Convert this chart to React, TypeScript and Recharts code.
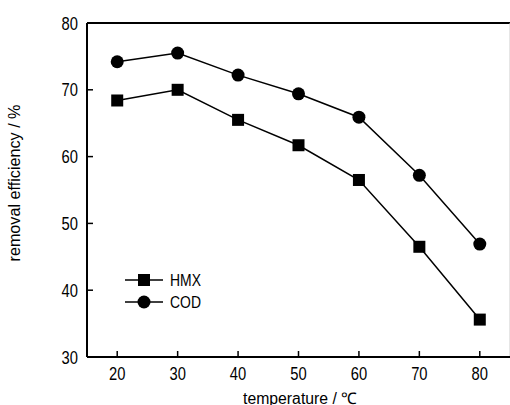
import React from 'react';
import {
  LineChart,
  Line,
  XAxis,
  YAxis,
  ReferenceLine,
} from 'recharts';

const temperatures = [20, 30, 40, 50, 60, 70, 80];
const hmx = [68.4, 70.0, 65.5, 61.7, 56.5, 46.5, 35.6];
const cod = [74.2, 75.5, 72.2, 69.4, 65.9, 57.2, 46.9];
const xTicks = [20, 30, 40, 50, 60, 70, 80];
const xMinorTicks = [25, 35, 45, 55, 65, 75];
const yTicks = [30, 40, 50, 60, 70, 80];
const seriesNames = ['HMX', 'COD'];

const data = temperatures.map((t, i) => ({ t, hmx: hmx[i], cod: cod[i] }));

const FONT = '"Liberation Sans", Arial, sans-serif';

// narrow-looking text, like the original Arial Narrow figure
const NarrowText = ({ x, y, anchor, size, children }: any) => (
  <g transform={`translate(${x},${y}) scale(0.82,1)`}>
    <text x={0} y={0} textAnchor={anchor} fontSize={size} fontFamily={FONT} fill="#000">
      {children}
    </text>
  </g>
);

const XTick = (props: any) => {
  const { x, y, payload } = props;
  return (
    <g>
      <line x1={x} y1={y} x2={x} y2={y - 6} stroke="#000" strokeWidth={1.5} />
      <NarrowText x={x} y={y + 23} anchor="middle" size={18}>
        {payload.value}
      </NarrowText>
    </g>
  );
};

const XMinorTick = (props: any) => {
  const { x, y } = props;
  return <line x1={x} y1={y} x2={x} y2={y - 3} stroke="#000" strokeWidth={1.5} />;
};

const YTick = (props: any) => {
  const { x, y, payload } = props;
  return (
    <g>
      <line x1={x} y1={y} x2={x + 6} y2={y} stroke="#000" strokeWidth={1.5} />
      <NarrowText x={x - 9} y={y + 6.5} anchor="end" size={18}>
        {payload.value}
      </NarrowText>
    </g>
  );
};

const SquareDot = (props: any) => {
  const { cx, cy } = props;
  return <rect x={cx - 6} y={cy - 6} width={12} height={12} fill="#000" />;
};

const CircleDot = (props: any) => {
  const { cx, cy } = props;
  return <circle cx={cx} cy={cy} r={6.5} fill="#000" />;
};

const Overlay = () => (
  <svg
    width={510}
    height={405}
    style={{ position: 'absolute', left: 0, top: 0, pointerEvents: 'none' }}
  >
    {/* legend */}
    <g transform="translate(125,268)">
      <line x1={0} y1={12} x2={38} y2={12} stroke="#000" strokeWidth={1.5} />
      <rect x={13} y={6} width={12} height={12} fill="#000" />
      <NarrowText x={45} y={18} anchor="start" size={17}>{seriesNames[0]}</NarrowText>
      <line x1={0} y1={34} x2={38} y2={34} stroke="#000" strokeWidth={1.5} />
      <circle cx={19} cy={34} r={6.5} fill="#000" />
      <NarrowText x={45} y={40} anchor="start" size={17}>{seriesNames[1]}</NarrowText>
    </g>
    {/* axis titles */}
    <text
      x={0}
      y={0}
      transform="translate(20,183) rotate(-90)"
      textAnchor="middle"
      fontSize={16}
      fontFamily={FONT}
      textLength={157}
      lengthAdjust="spacingAndGlyphs"
      fill="#000"
    >
      removal efficiency / %
    </text>
    <text
      x={300}
      y={404}
      textAnchor="middle"
      fontSize={16}
      fontFamily={FONT}
      textLength={114}
      lengthAdjust="spacingAndGlyphs"
      fill="#000"
    >
      temperature / ℃
    </text>
  </svg>
);

export default function App() {
  return (
    <div style={{ position: 'absolute', left: 0, top: 0, width: 510, height: 405, background: '#fff' }}>
      <LineChart
        width={510}
        height={405}
        data={data}
        margin={{ top: 23, right: 0, bottom: 0, left: 0 }}
      >
        <XAxis
          dataKey="t"
          type="number"
          domain={[15, 85]}
          ticks={xTicks}
          tickSize={0}
          tickMargin={0}
          tickLine={false}
          tick={<XTick />}
          axisLine={{ stroke: '#000', strokeWidth: 2 }}
          height={48}
          interval={0}
        />
        <XAxis
          xAxisId="minor"
          dataKey="t"
          type="number"
          domain={[15, 85]}
          ticks={xMinorTicks}
          tickSize={0}
          tickMargin={0}
          tickLine={false}
          tick={<XMinorTick />}
          axisLine={false}
          height={0}
          interval={0}
        />
        <YAxis
          type="number"
          domain={[30, 80]}
          ticks={yTicks}
          width={87}
          tickSize={0}
          tickMargin={0}
          tickLine={false}
          tick={<YTick />}
          axisLine={{ stroke: '#000', strokeWidth: 2 }}
          interval={0}
        />
        <ReferenceLine y={80} stroke="#000" strokeWidth={2} />
        <ReferenceLine x={85} stroke="#ccc" strokeWidth={1} />
        <Line
          dataKey="hmx"
          name={seriesNames[0]}
          stroke="#000"
          strokeWidth={1.5}
          dot={<SquareDot />}
          activeDot={false}
          isAnimationActive={false}
        />
        <Line
          dataKey="cod"
          name={seriesNames[1]}
          stroke="#000"
          strokeWidth={1.5}
          dot={<CircleDot />}
          activeDot={false}
          isAnimationActive={false}
        />
      </LineChart>
      <Overlay />
    </div>
  );
}
